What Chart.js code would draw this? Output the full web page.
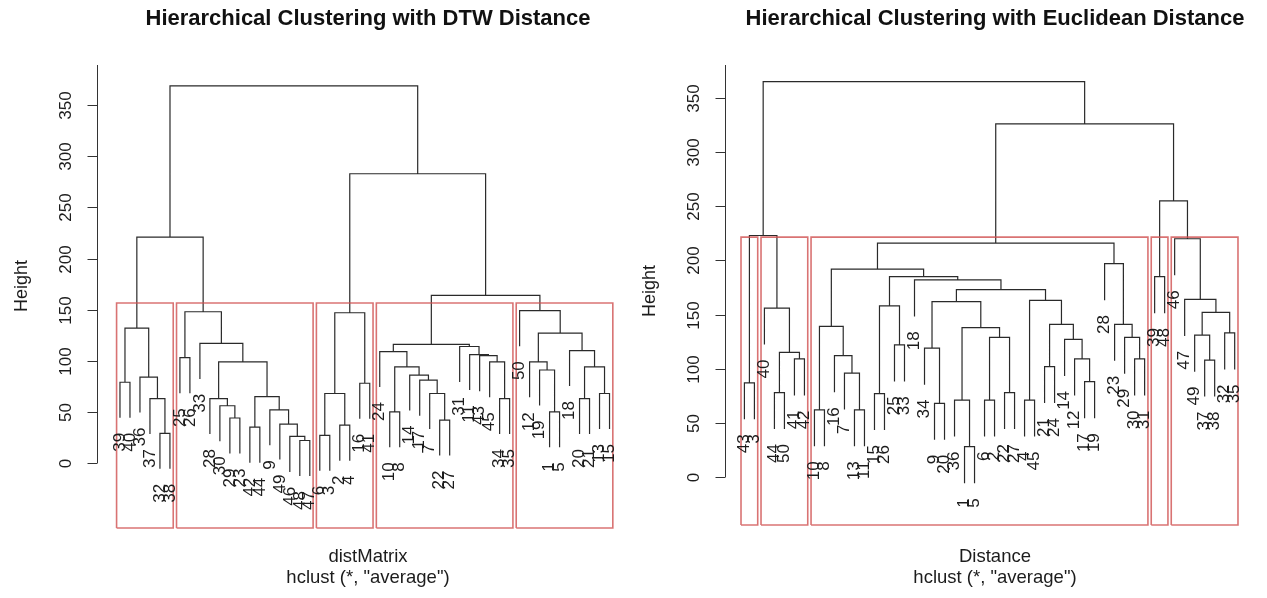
<!DOCTYPE html>
<html>
<head>
<meta charset="utf-8">
<script src="https://cdn.jsdelivr.net/npm/chart.js@4.4.1/dist/chart.umd.min.js"></script>
<style>
  body { margin: 0; background: #fff; width: 1267px; height: 598px; overflow: hidden; position: relative; }
  canvas { position: absolute; top: 0; }
  #dtw { left: 0; }
  #euc { left: 640px; }
</style>
</head>
<body>
<canvas id="dtw" width="645" height="598"></canvas>
<canvas id="euc" width="627" height="598"></canvas>
<script>
// tick values on the Height axis
const yTicks = [0, 50, 100, 150, 200, 250, 300, 350];

// DTW dendrogram: leaf labels in plotted order,
// merge rows (negative = leaf position, positive = earlier row) and heights
const dtwLabels = ['39','40','36','37','32','38',
  '25','26','33','28','30','29','23','42','44','9','49','46','48','47',
  '6','3','2','4','16','41',
  '24','10','8','14','17','7','22','27','31','11','43','45','34','35',
  '50','12','19','1','5','18','20','21','13','15'];
const dtwMerge = [
  [-5,-6],[-4,1],[-3,2],[-1,-2],[4,3],
  [-7,-8],[-12,-13],[-11,7],[-10,8],[-14,-15],[-19,-20],[-18,11],[-17,12],[-16,13],[10,14],[9,15],[-9,16],[6,17],
  [5,18],
  [-21,-22],[-23,-24],[20,21],[-25,-26],[22,23],
  [-33,-34],[-32,25],[-31,26],[-30,27],[-28,-29],[29,28],[-27,30],
  [-39,-40],[-38,32],[-37,33],[-36,34],[-35,35],[31,36],
  [-44,-45],[-43,38],[-42,39],[-47,-48],[-49,-50],[41,42],[-46,43],[40,44],[-41,45],
  [37,46],[24,47],[19,48]
];
const dtwHeight = [
  29,63,84,79,132,
  103,44,56,63,35,22,26,38,52,65,99,117,148,
  221,
  27,37,68,78,147,
  42,68,81,86,50,94,109,
  63,99,105,106,114,116,
  50,91,99,63,68,94,110,127,149,
  164,283,369
];

// Euclidean dendrogram
const eucLabels = ['43','3','40','44','50','41','42',
  '10','8','16','7','13','11','15','26','25','33','18','34','9','20','36','1','5','6','2','22','27','4','45',
  '21','24','14','12','17','19','28','23','29','30','31',
  '39','48','46','47','49','37','38','32','35'];
const eucMerge = [
  [-1,-2],[-4,-5],[-6,-7],[2,3],[-3,4],[1,5],
  [-8,-9],[-12,-13],[-11,8],[-10,9],[7,10],
  [-14,-15],[-16,-17],[12,13],
  [-20,-21],[-19,15],[-23,-24],[-22,17],[-25,-26],[-27,-28],[19,20],[18,21],[16,22],
  [-29,-30],[-31,-32],[-35,-36],[-34,26],[-33,27],[25,28],[24,29],[23,30],
  [-18,31],[14,32],[11,33],
  [-40,-41],[-39,35],[-38,36],[-37,37],[34,38],
  [-42,-43],
  [-47,-48],[-46,41],[-49,-50],[42,43],[-45,44],[-44,45],
  [40,46],[39,47],[6,48]
];
const eucHeight = [
  87,78,109,115,156,223,
  62,62,96,112,139,
  77,122,158,
  68,119,28,71,71,78,129,138,162,
  71,102,88,109,127,141,163,173,
  182,185,192,
  109,129,141,197,216,
  185,
  108,131,133,152,164,220,
  255,326,365
];

const clusterCount = 5;

function dendro(merge, height) {
  const n = merge.length + 1;
  const hang = 0.1 * (Math.max(...height) - Math.min(...height));
  const cx = [];
  const leafEnd = new Array(n);
  const pts = [];
  merge.forEach((pair, i) => {
    const h = height[i];
    const xOf = c => c < 0 ? -c : cx[c - 1];
    const yOf = c => {
      if (c < 0) { leafEnd[-c - 1] = h - hang; return h - hang; }
      return height[c - 1];
    };
    const [l, r] = pair;
    const xl = xOf(l), xr = xOf(r);
    pts.push({x: xl, y: yOf(l)}, {x: xl, y: h}, {x: xr, y: h}, {x: xr, y: yOf(r)}, {x: xr, y: null});
    cx.push((xl + xr) / 2);
  });
  return {pts, leafEnd};
}

// rect.hclust style boxes around the k clusters
function clusterBoxes(merge, height, k, yBottom) {
  const order = height.map((h, i) => i).sort((a, b) => height[b] - height[a]);
  const cut = new Set(order.slice(0, k - 1));
  const top = (height[order[k - 2]] + height[order[k - 1]]) / 2;
  const span = c => {
    if (c < 0) return [-c, -c];
    const a = span(merge[c - 1][0]), b = span(merge[c - 1][1]);
    return [Math.min(a[0], b[0]), Math.max(a[1], b[1])];
  };
  const pts = [];
  cut.forEach(i => merge[i].forEach(c => {
    if (c > 0 && cut.has(c - 1)) return;
    const [s, e] = span(c);
    pts.push({x: s - 0.34, y: yBottom}, {x: s - 0.34, y: top}, {x: e + 0.33, y: top},
             {x: e + 0.33, y: yBottom}, {x: s - 0.34, y: yBottom}, {x: s, y: null});
  }));
  return pts;
}

const FONT = '"Liberation Sans", Arial, Helvetica, sans-serif';

function decor(spec) {
  return {
    id: 'decor',
    afterDraw(chart) {
      const {ctx, chartArea: a, scales: {x, y}} = chart;
      ctx.save();
      ctx.fillStyle = '#1c1c1c';
      ctx.strokeStyle = '#333';
      ctx.lineWidth = 1;
      const ax = Math.round(a.left) + 0.5;
      ctx.beginPath();
      ctx.moveTo(ax, y.getPixelForValue(yTicks[0]));
      ctx.lineTo(ax, a.top);
      ctx.stroke();

      ctx.font = '17px ' + FONT;
      ctx.textAlign = 'center';
      ctx.textBaseline = 'middle';
      yTicks.forEach(v => {
        const py = Math.round(y.getPixelForValue(v)) + 0.5;
        ctx.beginPath();
        ctx.moveTo(ax, py);
        ctx.lineTo(ax - 10, py);
        ctx.stroke();
        ctx.save();
        ctx.translate(ax - 31, py);
        ctx.rotate(-Math.PI / 2);
        ctx.fillText(String(v), 0, 0);
        ctx.restore();
      });

      ctx.font = '18px ' + FONT;
      ctx.save();
      ctx.translate(ax - 75, spec.ylabY);
      ctx.rotate(-Math.PI / 2);
      ctx.fillText('Height', 0, 0);
      ctx.restore();

      // leaf labels hang below the leaf ends
      ctx.font = '17px ' + FONT;
      ctx.textAlign = 'right';
      spec.labels.forEach((lab, i) => {
        const px = x.getPixelForValue(i + 1);
        const py = y.getPixelForValue(spec.leafEnd[i]) + 15;
        ctx.save();
        ctx.translate(px, py);
        ctx.rotate(-Math.PI / 2);
        ctx.fillText(lab, 0, 0);
        ctx.restore();
      });

      const cx = (a.left + a.right) / 2;
      ctx.textAlign = 'center';
      ctx.font = 'bold 22px ' + FONT;
      ctx.fillStyle = '#111';
      ctx.fillText(spec.title, cx, 19);
      ctx.font = '18.5px ' + FONT;
      ctx.fillStyle = '#1c1c1c';
      ctx.fillText(spec.xlab, cx, 557);
      ctx.fillText('hclust (*, "average")', cx, 578);
      ctx.restore();
    }
  };
}

function makeChart(id, spec) {
  const tree = dendro(spec.merge, spec.height);
  spec.leafEnd = tree.leafEnd;
  const boxes = clusterBoxes(spec.merge, spec.height, clusterCount, spec.ymin);
  return new Chart(document.getElementById(id), {
    type: 'line',
    data: {
      datasets: [
        {data: boxes, borderColor: 'rgba(208,80,80,0.8)', borderWidth: 1.6, pointRadius: 0, spanGaps: false, clip: false},
        {data: tree.pts, borderColor: '#2a2a2a', borderWidth: 1.2, pointRadius: 0, spanGaps: false}
      ]
    },
    options: {
      responsive: false,
      animation: false,
      devicePixelRatio: 1,
      layout: {padding: spec.padding},
      plugins: {legend: {display: false}, tooltip: {enabled: false}, title: {display: false}},
      elements: {line: {tension: 0}},
      scales: {
        x: {type: 'linear', display: false, min: spec.xmin, max: spec.xmax},
        y: {type: 'linear', display: false, min: spec.ymin, max: spec.ymax}
      }
    },
    plugins: [decor(spec)]
  });
}

makeChart('dtw', {
  merge: dtwMerge, height: dtwHeight, labels: dtwLabels,
  title: 'Hierarchical Clustering with DTW Distance', xlab: 'distMatrix',
  padding: {left: 97, right: 6, top: 65, bottom: 70},
  xmin: -1.3, xmax: 52.95, ymin: -63.6, ymax: 389.4, ylabY: 286
});

makeChart('euc', {
  merge: eucMerge, height: eucHeight, labels: eucLabels,
  title: 'Hierarchical Clustering with Euclidean Distance', xlab: 'Distance',
  padding: {left: 85, right: 2, top: 65, bottom: 73},
  xmin: -0.94, xmax: 53.03, ymin: -44.3, ymax: 380.4, ylabY: 291
});
</script>
</body>
</html>
